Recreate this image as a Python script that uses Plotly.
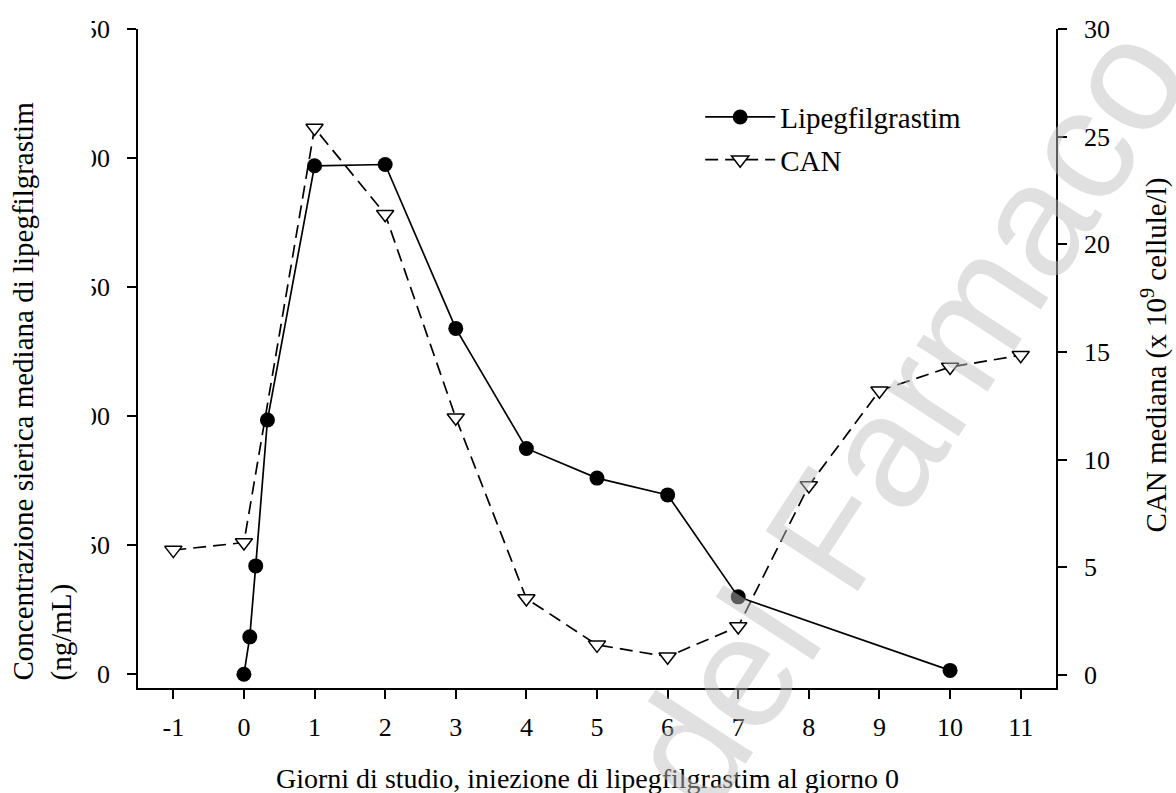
import plotly.graph_objects as go

# ---- data ----
days_lipeg = [0, 0.083, 0.167, 0.333, 1, 2, 3, 4, 5, 6, 7, 10]
lipeg_conc = [0, 14.5, 42, 98.5, 197, 197.5, 134, 87.5, 76, 69.5, 30, 1.5]

days_can = [-1, 0, 1, 2, 3, 4, 5, 6, 7, 8, 9, 10, 11]
can_values = [5.8, 6.15, 25.4, 21.4, 11.95, 3.55, 1.4, 0.85, 2.25, 8.8, 13.2, 14.3, 14.85]

x_ticks = list(range(-1, 12))
x_tick_labels = [str(v) for v in x_ticks]  # plain hyphen for "-1"
y_left_ticks = [0, 50, 100, 150, 200, 250]
y_right_ticks = [0, 5, 10, 15, 20, 25, 30]

FONT = "Liberation Serif"
TICK_FS = 26
TITLE_FS = 28
LEG_FS = 29

fig = go.Figure()

fig.add_trace(go.Scatter(
    x=days_lipeg, y=lipeg_conc, name="Lipegfilgrastim", mode="lines+markers",
    line=dict(color="black", width=1.7),
    marker=dict(symbol="circle", size=15, color="black"),
    yaxis="y", legendgroup="a",
))
fig.add_trace(go.Scatter(
    x=days_can, y=can_values, name="CAN", mode="lines+markers",
    line=dict(color="black", width=1.7, dash="13px,7px"),
    marker=dict(symbol="triangle-down", size=15, color="white",
                line=dict(color="black", width=1.5)),
    yaxis="y2", legendgroup="b",
))

axis_common = dict(
    showline=True, linecolor="black", linewidth=1.8,
    ticks="outside", ticklen=9, tickwidth=1.5, tickcolor="black",
    showgrid=False, zeroline=False,
    tickfont=dict(family=FONT, size=TICK_FS, color="black"),
)

fig.update_layout(
    width=1176, height=793,
    margin=dict(l=138, r=120, t=29, b=105, autoexpand=False),
    paper_bgcolor="white", plot_bgcolor="white",
    font=dict(family=FONT, size=TICK_FS, color="black"),
    xaxis=dict(range=[-1.5, 11.5], tickvals=x_ticks, ticktext=x_tick_labels,
               ticklabelstandoff=6, **axis_common),
    yaxis=dict(range=[-5.31, 250], tickvals=y_left_ticks, ticklabelstandoff=12, **axis_common),
    yaxis2=dict(range=[-0.604, 30], tickvals=y_right_ticks, overlaying="y", side="right",
                ticklabelstandoff=12, **axis_common),
    showlegend=True,
    legend=dict(x=0.6124, y=0.905, xanchor="left", yanchor="top",
                bgcolor="rgba(0,0,0,0)", font=dict(family=FONT, size=LEG_FS),
                traceorder="grouped", tracegroupgap=2, itemwidth=70),
)

# mask emulating the cropped left tick labels of the original figure
fig.add_shape(type="rect", xref="paper", yref="paper",
              x0=-0.0904, x1=-0.0505, y0=0.179, y1=1.06,
              fillcolor="white", line=dict(width=0), layer="above")

annotations = [
    dict(text="Giorni di studio, iniezione di lipegfilgrastim al giorno 0",
         xref="paper", yref="paper", x=0.49, y=-0.1366, xanchor="center", yanchor="middle",
         showarrow=False, font=dict(family=FONT, size=TITLE_FS)),
    dict(text="Concentrazione sierica mediana di lipegfilgrastim<br>(ng/mL)",
         xref="paper", yref="paper", x=-0.1035, y=0.0091, xanchor="center", yanchor="bottom",
         textangle=-90, align="left", showarrow=False, font=dict(family=FONT, size=LEG_FS)),
    dict(text="CAN mediana (x 10<sup>9</sup> cellule/l)",
         xref="paper", yref="paper", x=1.1077, y=0.506, xanchor="center", yanchor="middle",
         textangle=-90, showarrow=False, font=dict(family=FONT, size=LEG_FS)),
    dict(text="del Farmaco", xref="paper", yref="paper", x=0.836, y=0.414,
         xanchor="center", yanchor="middle", textangle=-57, showarrow=False,
         font=dict(family="Liberation Sans", size=160, color="rgba(190,190,190,0.48)")),
]
fig.update_layout(annotations=annotations)

fig.write_html("out.html", config={"displayModeBar": False},
               post_script="document.body.style.margin='0';document.body.style.overflow='hidden';")
